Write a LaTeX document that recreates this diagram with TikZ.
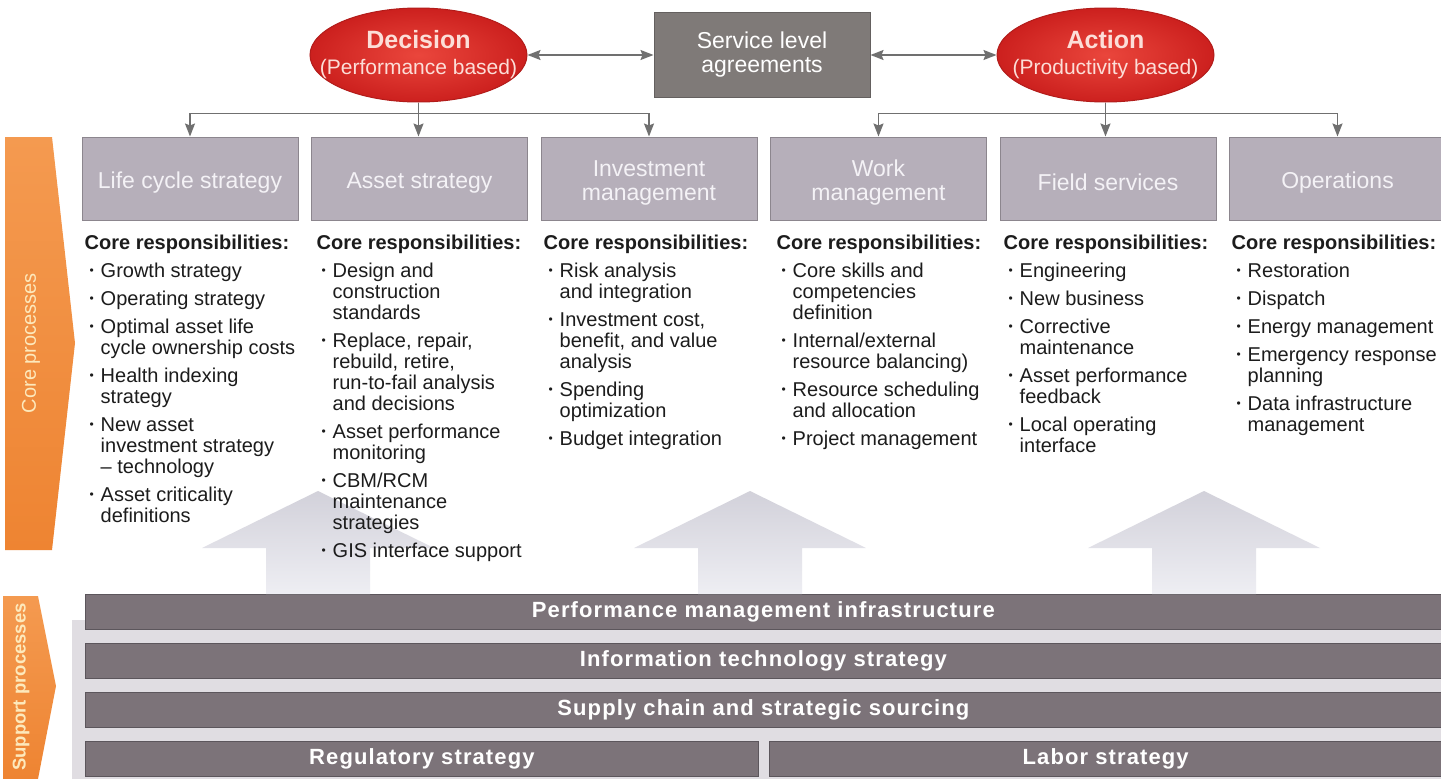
\documentclass[tikz,border=0pt]{standalone}
\usepackage{fontspec}
\setmainfont{Liberation Sans}
\newfontfamily\barfont[LetterSpace=5]{Liberation Sans}
\usepackage{xcolor}
\usetikzlibrary{arrows.meta,positioning,shapes.geometric}

\definecolor{procfill}{RGB}{182,175,186}
\definecolor{procedge}{RGB}{140,134,142}
\definecolor{procink}{RGB}{244,242,246}
\definecolor{slafill}{RGB}{127,122,120}
\definecolor{slaedge}{RGB}{100,96,95}
\definecolor{linkgray}{RGB}{112,112,112}
\definecolor{ovalin}{RGB}{234,70,60}
\definecolor{ovalout}{RGB}{204,32,30}
\definecolor{ovaledge}{RGB}{178,28,26}
\definecolor{ovalink}{RGB}{252,222,216}
\definecolor{orangelt}{RGB}{244,154,80}
\definecolor{orangedk}{RGB}{238,132,50}
\definecolor{sidecream}{RGB}{253,233,188}
\definecolor{barfill}{RGB}{124,115,121}
\definecolor{baredge}{RGB}{92,86,92}
\definecolor{bandgray}{RGB}{224,221,226}
\definecolor{uptop}{RGB}{210,209,218}
\definecolor{upbot}{RGB}{238,238,243}
\definecolor{respink}{RGB}{28,28,28}

\newcommand{\respbul}{\makebox[16pt][l]{\hspace{5pt}\raisebox{2.5pt}{\fontsize{12}{12}\selectfont •}}}
\newcommand{\respind}{\makebox[16pt]{}}
\newcommand{\procstrut}{\rule{0pt}{25pt}}

\begin{document}
\begin{tikzpicture}[
    x=1pt, y=-1pt,
    procbox/.style={draw=procedge, fill=procfill, line width=1pt, align=center, minimum width=216pt, minimum height=83pt, inner sep=2pt, text=procink, font=\fontsize{23}{24}\selectfont},
    slabox/.style={draw=slaedge, fill=slafill, line width=1pt, align=center, minimum width=216pt, minimum height=85pt, text=white, font=\fontsize{23}{24}\selectfont},
    redoval/.style={ellipse, draw=ovaledge, line width=1pt, inner color=ovalin, outer color=ovalout, minimum width=217pt, minimum height=94pt, inner sep=0pt},
    ovaltext/.style={align=center, text=ovalink, font=\fontsize{21}{26}\selectfont},
    resp/.style={anchor=north west, align=left, inner sep=0pt, text=respink, font=\fontsize{20}{21}\selectfont},
    supbar/.style={draw=baredge, fill=barfill, line width=0.8pt, minimum height=35pt, inner sep=0pt, text=white, font=\fontsize{22}{24}\barfont\bfseries},
    sidetxt/.style={text=sidecream, font=\fontsize{20}{22}\selectfont},
    link/.style={draw=linkgray, line width=1.6pt},
    tip/.style={link, -{Stealth[length=13pt, width=10pt, inset=2pt]}},
    duo/.style={link, {Stealth[length=13pt, width=10pt, inset=2pt]}-{Stealth[length=13pt, width=10pt, inset=2pt]}}
]
    \fill[white] (0,0) rectangle (1441,779);
    \useasboundingbox (0,0) rectangle (1441,779);

    % support processes
    \fill[bandgray] (72,620) rectangle (1441,779);
    \node[supbar, minimum width=1356pt, anchor=north west] (pmi) at (85,594) {Performance management infrastructure};
    \node[supbar, minimum width=1356pt, below=13.3pt of pmi] (its) {Information technology strategy};
    \node[supbar, minimum width=1356pt, below=13.3pt of its] (scs) {Supply chain and strategic sourcing};
    \node[supbar, minimum width=673pt, below=13.3pt of scs.south west, anchor=north west] (reg) {Regulatory strategy};
    \node[supbar, minimum width=673pt, right=10pt of reg] (lab) {Labor strategy};

    \foreach \ux in {318,750,1204}
        \shade[top color=uptop, bottom color=upbot] ({\ux-52},594) -- ({\ux-52},548) -- ({\ux-116},548) -- (\ux,491) -- ({\ux+116},548) -- ({\ux+52},548) -- ({\ux+52},594) -- cycle;

    % side labels
    \shade[top color=orangelt, bottom color=orangedk] (5,137) -- (52,137) -- (75,343) -- (52,550) -- (5,550) -- cycle;
    \node[sidetxt, rotate=90] (corelbl) at (31,343) {Core processes};
    \shade[top color=orangelt, bottom color=orangedk] (3,596) -- (38,596) -- (56,686) -- (38,779) -- (3,779) -- cycle;
    \node[sidetxt, rotate=90, font=\fontsize{18.5}{20}\selectfont\bfseries] (suplbl) at (21,687) {Support processes};

    % top row
    \node[redoval] (dec) at (418.5,55) {};
    \node[ovaltext] (dectxt) at (dec) {{\fontsize{25}{26}\selectfont\bfseries Decision}\\(Performance based)};
    \node[slabox, right=126pt of dec] (sla) {Service level\\agreements};
    \node[redoval, right=126pt of sla] (act) {};
    \node[ovaltext] (acttxt) at (act) {{\fontsize{25}{26}\selectfont\bfseries Action}\\(Productivity based)};

    \draw[duo] (dec.east) -- (sla.west);
    \draw[duo] (sla.east) -- (act.west);

    % core process boxes
    \node[procbox] (lcs) at (190,178.5) {\procstrut Life cycle strategy};
    \node[procbox, right=12.5pt of lcs] (ast) {\procstrut Asset strategy};
    \node[procbox, right=12.5pt of ast] (inv) {\procstrut Investment\\management};
    \node[procbox, right=12.5pt of inv] (wrk) {\procstrut Work\\management};
    \node[procbox, right=12.5pt of wrk] (fld) {\procstrut Field services};
    \node[procbox, right=12.5pt of fld] (ops) {\procstrut Operations};

    \coordinate (decj) at ([yshift=-11pt]dec.south);
    \coordinate (actj) at ([yshift=-11pt]act.south);
    \draw[link] (dec.south) -- (decj);
    \draw[tip] (decj) -| (lcs.north);
    \draw[tip] (decj) -- (decj |- ast.north);
    \draw[tip] (decj) -| (inv.north);
    \draw[link] (act.south) -- (actj);
    \draw[tip] (actj) -| (wrk.north);
    \draw[tip] (actj) -- (actj |- fld.north);
    \draw[tip] (actj) -| (ops.north);

    % responsibilities
    \node[resp, below=14pt of lcs.south west, anchor=north west, xshift=3pt] (lcsr) {%
        {\bfseries Core responsibilities:}\\[7pt]
        \respbul Growth strategy\\[7pt]
        \respbul Operating strategy\\[7pt]
        \respbul Optimal asset life\\
        \respind cycle ownership costs\\[7pt]
        \respbul Health indexing\\
        \respind strategy\\[7pt]
        \respbul New asset\\
        \respind investment strategy\\
        \respind -- technology\\[7pt]
        \respbul Asset criticality\\
        \respind definitions};
    \node[resp, below=14pt of ast.south west, anchor=north west, xshift=5.5pt] (astr) {%
        {\bfseries Core responsibilities:}\\[7pt]
        \respbul Design and\\
        \respind construction\\
        \respind standards\\[7pt]
        \respbul Replace, repair,\\
        \respind rebuild, retire,\\
        \respind run-to-fail analysis\\
        \respind and decisions\\[7pt]
        \respbul Asset performance\\
        \respind monitoring\\[7pt]
        \respbul CBM/RCM\\
        \respind maintenance\\
        \respind strategies\\[7pt]
        \respbul GIS interface support};
    \node[resp, below=14pt of inv.south west, anchor=north west, xshift=3pt] (invr) {%
        {\bfseries Core responsibilities:}\\[7pt]
        \respbul Risk analysis\\
        \respind and integration\\[7pt]
        \respbul Investment cost,\\
        \respind benefit, and value\\
        \respind analysis\\[7pt]
        \respbul Spending\\
        \respind optimization\\[7pt]
        \respbul Budget integration};
    \node[resp, below=14pt of wrk.south west, anchor=north west, xshift=6.5pt] (wrkr) {%
        {\bfseries Core responsibilities:}\\[7pt]
        \respbul Core skills and\\
        \respind competencies\\
        \respind definition\\[7pt]
        \respbul Internal/external\\
        \respind resource balancing)\\[7pt]
        \respbul Resource scheduling\\
        \respind and allocation\\[7pt]
        \respbul Project management};
    \node[resp, below=14pt of fld.south west, anchor=north west, xshift=4pt] (fldr) {%
        {\bfseries Core responsibilities:}\\[7pt]
        \respbul Engineering\\[7pt]
        \respbul New business\\[7pt]
        \respbul Corrective\\
        \respind maintenance\\[7pt]
        \respbul Asset performance\\
        \respind feedback\\[7pt]
        \respbul Local operating\\
        \respind interface};
    \node[resp, below=14pt of ops.south west, anchor=north west, xshift=2.5pt] (opsr) {%
        {\bfseries Core responsibilities:}\\[7pt]
        \respbul Restoration\\[7pt]
        \respbul Dispatch\\[7pt]
        \respbul Energy management\\[7pt]
        \respbul Emergency response\\
        \respind planning\\[7pt]
        \respbul Data infrastructure\\
        \respind management};
\end{tikzpicture}
\end{document}
